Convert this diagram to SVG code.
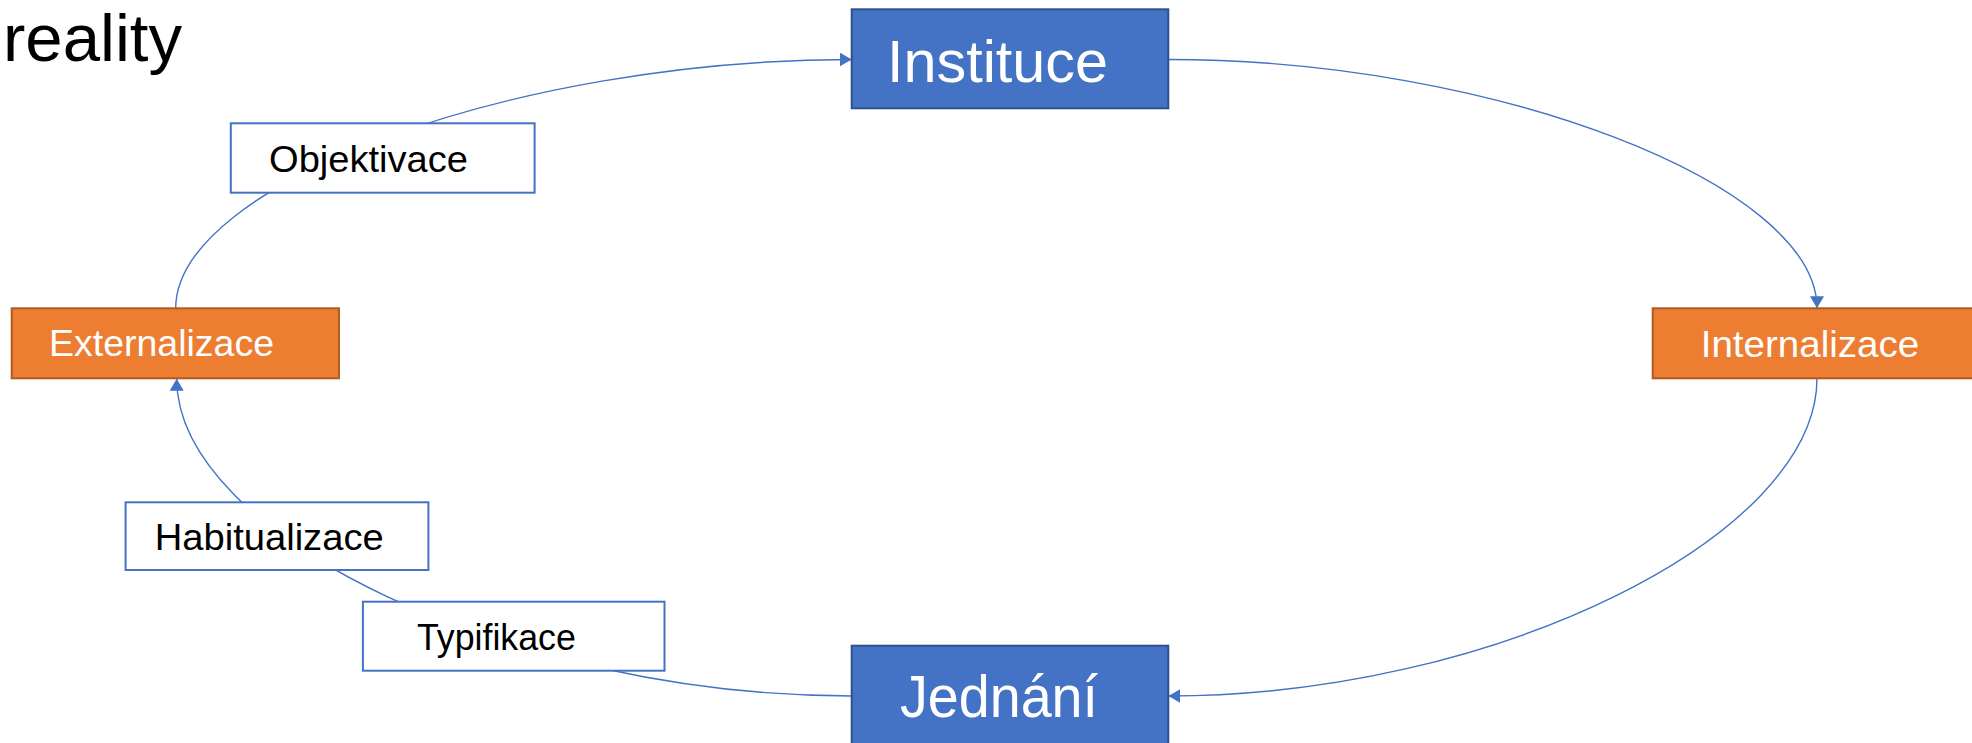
<svg xmlns="http://www.w3.org/2000/svg" width="1972" height="743" viewBox="0 0 1972 743">
<style>
text{font-family:"Liberation Sans",Arial,sans-serif}
.blue{fill:#4472C4;stroke:#2F528F;stroke-width:2}
.orange{fill:#ED7D31;stroke:#AE5A21;stroke-width:2}
.lbl{fill:#FFFFFF;stroke:#4472C4;stroke-width:2}
.wt{fill:#FFFFFF}
.bk{fill:#000000}
.conn{fill:none;stroke:#4472C4;stroke-width:1.4}
</style>
<defs>
<marker id="arr" markerUnits="userSpaceOnUse" markerWidth="13" markerHeight="14" refX="12" refY="7" orient="auto">
<path d="M0,0 L12,7 L0,14 z" fill="#4472C4"/>
</marker>
</defs>
<text x="3" y="61" font-size="67" class="bk" textLength="179" lengthAdjust="spacingAndGlyphs">reality</text>
<g id="connectors">
<path class="conn" d="M175.7,308.3 C175.7,183.9 513.7,59.5 851.7,59.5" marker-end="url(#arr)"/>
<path class="conn" d="M1168.3,59.5 C1492.5,59.5 1817,183.8 1817,308.3" marker-end="url(#arr)"/>
<path class="conn" d="M1817,378.3 C1817,537 1492.5,696 1168.3,696" marker-end="url(#arr)"/>
<path class="conn" d="M851.7,696 C514.2,696 176.7,537.2 176.7,378.8" marker-end="url(#arr)"/>
</g>
<g id="instituce">
<rect class="blue" x="851.7" y="9.3" width="316.6" height="99"/>
<text x="887" y="81.7" font-size="59" class="wt" textLength="221" lengthAdjust="spacingAndGlyphs">Instituce</text>
</g>
<g id="jednani">
<rect class="blue" x="851.7" y="645.7" width="316.6" height="99"/>
<text x="900" y="717.3" font-size="59" class="wt" textLength="198" lengthAdjust="spacingAndGlyphs">Jednání</text>
</g>
<g id="externalizace">
<rect class="orange" x="11.7" y="308.3" width="327.3" height="70"/>
<text x="49" y="356" font-size="37" class="wt" textLength="225" lengthAdjust="spacingAndGlyphs">Externalizace</text>
</g>
<g id="internalizace">
<rect class="orange" x="1652.7" y="308.3" width="327.3" height="70"/>
<text x="1700.7" y="356.7" font-size="37" class="wt" textLength="218.6" lengthAdjust="spacingAndGlyphs">Internalizace</text>
</g>
<g id="objektivace">
<rect class="lbl" x="230.8" y="123.3" width="303.8" height="69.4"/>
<text x="269" y="171.7" font-size="37" class="bk" textLength="199" lengthAdjust="spacingAndGlyphs">Objektivace</text>
</g>
<g id="habitualizace">
<rect class="lbl" x="125.6" y="502.3" width="302.8" height="67.7"/>
<text x="154.7" y="550" font-size="37" class="bk" textLength="229" lengthAdjust="spacingAndGlyphs">Habitualizace</text>
</g>
<g id="typifikace">
<rect class="lbl" x="362.9" y="601.7" width="301.6" height="69"/>
<text x="416.9" y="650" font-size="37" class="bk" textLength="159" lengthAdjust="spacingAndGlyphs">Typifikace</text>
</g>
</svg>
